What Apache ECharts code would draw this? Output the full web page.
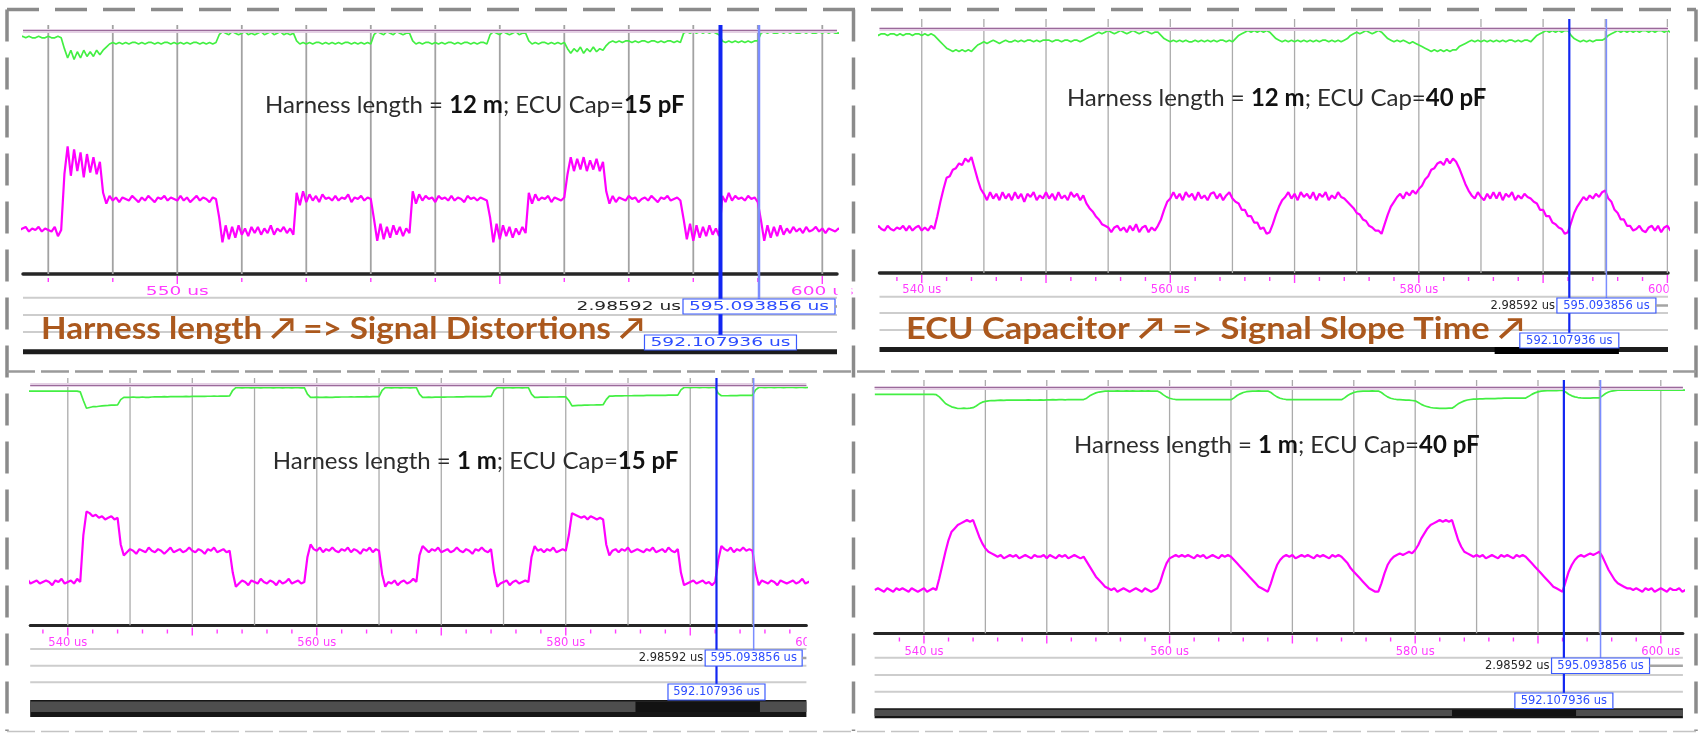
<!DOCTYPE html>
<html lang="en">
<head>
<meta charset="utf-8">
<title>Bus waveforms vs harness length and ECU capacitance</title>
<script src="https://cdn.jsdelivr.net/npm/echarts@6.0.0/dist/echarts.min.js"></script>
<style>
  html, body { margin: 0; padding: 0; background: #fff; }
  #chart { width: 1701px; height: 733px; }
</style>
</head>
<body>
<div id="chart"></div>
<script>
// ---- cursor readouts (µs) ----
const cursorA = 592.107936;
const cursorB = 595.093856;

// ---- sample clock of the captured traces (µs) ----
const T0 = 536.0;
const DT = 0.25;

// ---- timebase ----
const gridTimes = [540, 545, 550, 555, 560, 565, 570, 575, 580, 585, 590, 595, 600];
const fineTicks = [538, 540, 542, 544, 546, 548, 550, 552, 554, 556, 558, 560, 562, 564, 566, 568,
                   570, 572, 574, 576, 578, 580, 582, 584, 586, 588, 590, 592, 594, 596, 598, 600];
const fineMajor = [540, 550, 560, 570, 580, 590, 600];
const fineLabels = [540, 560, 580, 600];
const coarseTicks = [540, 545, 550, 555, 560, 565, 570, 575, 580, 585, 590, 595, 600];
const coarseMajor = [550, 575, 600];
const coarseLabels = [550, 600];

// ---- test conditions ----
const harnessLength = ['12 m', '12 m', '1 m', '1 m'];
const ecuCap = ['15 pF', '40 pF', '15 pF', '40 pF'];
const headlines = ['Harness length \u2197 => Signal Distortions \u2197',
                   'ECU Capacitor \u2197 => Signal Slope Time \u2197'];

// reference rail level per capture
const refLevel = [128.6, 125.4, 125.9, 121.5];

// ---- differential bus voltage (magenta), one sample every DT from T0 ----
const diff12m15pF = [
  0, 1, -1, 1, 0, -1, 1, 0, 1,                        // 536.00-538.00
  2, -1, 1, 0, 2, -1, 1, 0, -1, 2, -4, 0,             // 538.25-541.00
  36, 54, 35, 52, 38, 50, 34, 49, 37, 47, 36, 44,     // 541.25-544.00
  24, 17, 22, 19, 21, 18, 21, 20, 19, 22, 20, 18,     // 544.25-547.00
  21, 19, 22, 20, 18, 21, 20, 22, 19, 21, 20, 19,
  22, 19, 21, 18, 20, 22, 19, 21, 20, 18, 21, 20,     // -553.00
  8, -8, 3, -6, 2, -5, 3, -3, 1, -4, 2, -2,           // 553.25-556.00
  2, -3, 1, -2, 3, -3, 1, -1, 2, -2, 1, -3,
  24, 16, 25, 18, 23, 19, 22, 18, 23, 20, 21, 19,     // 559.25-562.00
  22, 19, 21, 20, 23, 18, 21, 20, 22, 19, 21, 20,
  7, -7, 4, -6, 2, -5, 3, -3, 2, -4, 1, -2,           // 565.25-568.00
  25, 17, 23, 19, 22, 20, 21, 18, 22, 20, 21, 19,
  22, 19, 21, 20, 18, 22, 20, 21, 19, 21, 20, 19,
  8, -8, 4, -6, 3, -4, 2, -5, 1, -3, 2, -2,           // 574.25-577.00
  24, 17, 23, 19, 21, 20, 22, 18, 21, 20, 19, 21,
  36, 47, 38, 46, 39, 47, 38, 45, 39, 46, 38, 44,     // 580.25-583.00
  25, 17, 22, 18, 21, 20, 19, 22, 20, 21, 18, 20,
  21, 19, 22, 20, 18, 21, 20, 22, 19, 20, 21, 19,
  7, -6, 4, -7, 3, -5, 2, -4, 3, -3, 1, -4,           // 589.25-592.00
  22, 18, 24, 19, 22, 20, 21, 19, 22, 20, 21, 18,     // 592.25-595.00
  6, -7, 3, -5, 2, -4, 3, -3, 1, -2, 2, -1,
  1, -2, 2, -1, 0, 2, -1, 1, -2, 1, 0, -1,
  1, 0, -1, 1                                         // -602.00
];

const diff12m40pF = [
  1, -1, 2, 0, -1, 2, 0, -1, 1,
  0, 2, -1, 2, -1, 1, 2, -1, 1, -1, 2, 0,
  8, 17, 25, 32, 33, 37, 38, 41, 40, 44, 42, 45,
  38, 31, 25, 22, 18, 23, 19, 22, 18, 23, 19, 22,
  18, 23, 19, 22, 17, 22, 20, 23, 18, 21, 19, 23,
  19, 22, 18, 23, 19, 21, 18, 23, 20, 22, 18, 21,
  16, 13, 11, 8, 6, 3, 2, 1, -2, 1, 2, -1,
  1, -2, 2, -1, 3, -2, 1, 2, -2, 1, -1, 2,
  6, 12, 17, 19, 23, 19, 22, 18, 23, 20, 22, 18,
  23, 19, 21, 18, 22, 23, 19, 22, 18, 21, 23, 19,
  17, 16, 12, 12, 8, 8, 4, 4, 0, 1, -3, -2,
  3, 9, 14, 18, 20, 23, 19, 22, 18, 23, 20, 22,
  19, 23, 18, 22, 20, 23, 18, 21, 19, 23, 20, 19,
  17, 15, 13, 10, 9, 6, 5, 2, 1, -1, -1, -3,
  3, 9, 14, 17, 20, 22, 19, 23, 21, 24, 22, 25,
  27, 31, 33, 37, 38, 41, 42, 40, 44, 41, 44, 42,
  38, 33, 28, 24, 21, 19, 23, 20, 18, 22, 19, 23,
  19, 23, 18, 22, 20, 23, 18, 21, 19, 22, 20, 19,
  17, 16, 12, 12, 8, 8, 4, 3, 1, 0, -3, -2,
  4, 10, 14, 17, 20, 18, 21, 19, 22, 20, 23, 24,
  19, 17, 12, 10, 6, 6, 2, 2, -1, 0, 2, -1,
  -2, 1, 2, -1, 2, -2, 1, 2, -1, 1, -2, 1,
  1, -1, 2, 0
];

const diff1m15pF = [
  1, -1, 0, 2, -1, 0, 1, -1, 0,
  1, 0, -2, 1, 0, 2, -1, 0, 1, -1, 2, 0,
  30, 45, 44, 42, 43, 41, 42, 40, 41, 42, 40, 41,
  24, 17, 19, 21, 20, 18, 21, 20, 19, 22, 20, 19,
  21, 20, 18, 20, 22, 19, 20, 21, 19, 20, 22, 20,
  19, 21, 20, 18, 21, 20, 22, 19, 20, 21, 19, 20,
  6, -3, -1, 1, 0, -2, 1, 0, -1, 2, 0, -1,
  1, 0, -2, 1, -1, 0, 2, -1, 0, 1, -1, 0,
  16, 24, 21, 20, 22, 19, 21, 20, 22, 20, 19, 21,
  20, 22, 19, 21, 20, 18, 21, 20, 22, 19, 21, 20,
  5, -3, 0, -1, 1, -2, 0, 1, -1, 0, 2, 0,
  17, 23, 21, 19, 21, 20, 22, 19, 20, 21, 19, 20,
  22, 20, 19, 21, 20, 18, 21, 20, 22, 20, 19, 21,
  6, -3, -1, 0, 1, -2, 0, 1, -1, 0, 1, 0,
  16, 23, 20, 21, 19, 21, 20, 22, 19, 20, 21, 20,
  30, 44, 43, 42, 41, 42, 40, 42, 41, 40, 41, 40,
  24, 17, 20, 21, 19, 21, 20, 22, 19, 20, 21, 20,
  19, 21, 20, 22, 19, 20, 21, 19, 22, 20, 19, 21,
  6, -2, -1, 0, 1, -1, 0, 1, -1, 0, -2, 0,
  14, 23, 21, 20, 22, 19, 21, 20, 22, 20, 21, 20,
  6, -2, 1, 0, -1, 1, 0, -2, 1, 0, -1, 0,
  1, -1, 0, 2, -1, 0, 1, -1, 0, 1, -2, 0,
  1, 0, -1, 0
];

const diff1m40pF = [
  0, 1, 0, -1, 1, 0, -1, 1, 0,
  1, 0, -1, 1, 0, -1, 0, 1, -1, 0, 1, 0,
  7, 15, 23, 30, 35, 37, 39, 40, 41, 42, 41, 42,
  37, 32, 28, 25, 23, 22, 21, 20, 21, 19, 20, 21,
  20, 21, 19, 20, 21, 20, 19, 21, 20, 20, 21, 19,
  21, 20, 19, 21, 20, 21, 19, 20, 21, 20, 19, 20,
  17, 14, 11, 8, 6, 4, 2, 1, 0, 1, -1, 0,
  1, 0, -1, 0, 1, 0, -1, 1, 0, -1, 0, 1,
  5, 11, 16, 19, 20, 21, 20, 21, 20, 21, 20, 19,
  21, 20, 21, 19, 20, 21, 20, 19, 21, 20, 21, 20,
  18, 16, 14, 12, 10, 8, 6, 4, 2, 1, 0, -1,
  4, 10, 15, 18, 20, 21, 20, 21, 19, 20, 21, 20,
  21, 20, 19, 21, 20, 21, 20, 19, 21, 20, 21, 20,
  18, 16, 13, 11, 9, 7, 5, 3, 1, 0, -1, -1,
  4, 10, 15, 18, 20, 21, 22, 21, 22, 23, 22, 24,
  27, 31, 34, 37, 39, 40, 41, 42, 41, 42, 41, 42,
  36, 30, 26, 23, 22, 21, 20, 21, 20, 21, 19, 20,
  21, 20, 19, 21, 20, 21, 20, 19, 21, 20, 21, 20,
  18, 16, 14, 12, 10, 8, 6, 4, 2, 1, 0, -1,
  5, 11, 15, 18, 20, 21, 20, 21, 22, 21, 22, 23,
  20, 16, 12, 9, 6, 4, 3, 2, 1, 1, 0, 1,
  0, -1, 1, 0, 1, -1, 0, 1, 0, -1, 1, 0,
  0, 1, -1, 0
];

// ---- supply-side line (green), same sample clock ----
const rail12m15pF = [
  124, 124, 125, 124, 124, 125, 124, 124, 125,
  124, 125, 124, 124, 125, 124, 124, 125, 124, 124, 125, 124,
  117, 111, 116, 110, 115, 111, 116, 112, 115, 112, 116, 113,
  116, 118, 120, 121, 120, 121, 120, 121, 120, 121, 121, 120,
  121, 120, 121, 121, 120, 121, 120, 121, 121, 120, 121, 120,
  121, 120, 121, 120, 121, 121, 120, 121, 120, 121, 120, 121,
  126, 128, 127, 126, 128, 127, 126, 127, 128, 126, 127, 126,
  127, 128, 126, 127, 128, 126, 127, 128, 126, 127, 126, 127,
  122, 120, 121, 120, 121, 120, 121, 121, 120, 121, 120, 121,
  120, 121, 120, 121, 121, 120, 121, 120, 121, 120, 121, 120,
  126, 128, 127, 126, 128, 127, 126, 128, 127, 126, 127, 127,
  122, 120, 121, 120, 121, 121, 120, 121, 120, 121, 120, 121,
  121, 120, 121, 120, 121, 121, 120, 121, 120, 121, 121, 120,
  126, 128, 127, 126, 128, 127, 126, 127, 128, 126, 127, 127,
  122, 120, 121, 120, 121, 121, 120, 121, 120, 121, 120, 121,
  117, 114, 117, 115, 118, 114, 117, 115, 118, 115, 117, 116,
  119, 121, 122, 121, 122, 121, 122, 122, 121, 122, 121, 122,
  122, 121, 122, 122, 121, 122, 121, 122, 122, 121, 122, 121,
  127, 128, 127, 128, 127, 128, 127, 128, 127, 128, 127, 126,
  122, 121, 122, 121, 122, 121, 122, 121, 122, 121, 122, 122,
  127, 128, 127, 128, 127, 127, 128, 127, 128, 127, 128, 127,
  127, 128, 127, 128, 127, 127, 128, 127, 128, 127, 128, 127,
  127, 128, 127, 128
];

const rail12m40pF = [
  122, 122, 121, 122, 122, 121, 122, 122, 121,
  122, 121, 122, 122, 121, 122, 122, 121, 122, 121, 122, 121,
  119, 117, 115, 113, 112, 111, 112, 111, 112, 111, 112, 111,
  113, 115, 116, 117, 116, 117, 118, 117, 116, 117, 118, 117,
  117, 118, 117, 118, 117, 118, 118, 117, 118, 117, 118, 118,
  118, 117, 118, 118, 117, 118, 118, 117, 118, 118, 117, 118,
  119, 120, 121, 122, 123, 122, 123, 124, 123, 122, 123, 124,
  123, 122, 123, 124, 123, 122, 123, 124, 123, 122, 123, 123,
  121, 119, 118, 117, 118, 117, 118, 117, 118, 117, 117, 118,
  117, 118, 117, 118, 117, 118, 117, 118, 118, 117, 118, 117,
  119, 121, 122, 123, 124, 123, 124, 123, 124, 123, 124, 123,
  121, 119, 118, 117, 118, 117, 118, 117, 118, 117, 118, 117,
  118, 117, 118, 117, 118, 118, 117, 118, 117, 118, 117, 118,
  119, 121, 122, 123, 122, 123, 124, 123, 122, 123, 124, 123,
  121, 119, 118, 117, 118, 117, 118, 117, 116, 117, 116, 115,
  114, 113, 112, 111, 112, 111, 112, 111, 112, 111, 112, 112,
  114, 115, 116, 117, 118, 117, 118, 117, 118, 117, 118, 117,
  118, 117, 118, 117, 118, 118, 117, 118, 117, 118, 118, 117,
  119, 121, 122, 123, 124, 123, 124, 123, 124, 123, 124, 124,
  121, 119, 118, 117, 118, 117, 118, 117, 118, 118, 118, 119,
  121, 122, 123, 124, 123, 124, 123, 124, 123, 124, 123, 124,
  124, 123, 124, 123, 124, 124, 123, 124, 123, 124, 123, 124,
  124, 123, 124, 124
];

const rail1m15pF = [
  122, 122, 122, 122, 122, 122, 122, 122, 122,
  122, 122, 122, 122, 122, 122, 122, 122, 122, 122, 122, 121.5,
  116, 111, 111.5, 112, 112, 112.3, 112.5, 112.7, 112.8, 113, 113, 113.2,
  116.5, 118, 118, 118, 118.2, 118, 118, 118.2, 118, 118, 118.2, 118.3,
  118.3, 118.3, 118.4, 118.3, 118.4, 118.5, 118.4, 118.5, 118.5, 118.6, 118.5, 118.6,
  118.6, 118.6, 118.7, 118.6, 118.7, 118.7, 118.8, 118.7, 118.8, 118.8, 118.8, 118.9,
  122.5, 124.2, 124.2, 124, 124.2, 124.2, 124.1, 124.2, 124.2, 124.1, 124.2, 124.2,
  124.2, 124.1, 124.2, 124.2, 124.1, 124.2, 124.2, 124.1, 124.2, 124.2, 124.1, 124.2,
  120, 118, 118, 118.1, 118, 118, 118.1, 118, 118, 118.1, 118.1, 118.2,
  118.2, 118.2, 118.3, 118.2, 118.3, 118.3, 118.3, 118.4, 118.3, 118.4, 118.4, 118.4,
  122.5, 124.2, 124.2, 124.1, 124.2, 124.2, 124.1, 124.2, 124.2, 124.1, 124.2, 124.2,
  120, 118, 118, 118.1, 118, 118.1, 118.1, 118.2, 118.1, 118.2, 118.2, 118.2,
  118.3, 118.3, 118.3, 118.4, 118.4, 118.4, 118.5, 118.5, 118.5, 118.5, 118.6, 118.6,
  122.5, 124.2, 124.2, 124.1, 124.2, 124.2, 124.1, 124.2, 124.2, 124.1, 124.2, 124.2,
  120, 118, 118, 118.1, 118.1, 118.1, 118.2, 118.2, 118.2, 118.3, 118.3, 118.3,
  116, 112.5, 112.7, 112.8, 112.9, 113, 113, 113.1, 113.1, 113.2, 113.2, 113.3,
  116.5, 118.8, 118.8, 118.9, 118.9, 118.9, 119, 119, 119, 119.1, 119.1, 119.1,
  119.1, 119.2, 119.2, 119.2, 119.3, 119.3, 119.3, 119.3, 119.4, 119.4, 119.4, 119.4,
  122.8, 124.3, 124.3, 124.2, 124.3, 124.3, 124.2, 124.3, 124.3, 124.2, 124.3, 124.3,
  120.5, 119, 119, 119, 119.1, 119.1, 119.1, 119.2, 119.2, 119.2, 119.2, 119.3,
  122.8, 124.3, 124.3, 124.2, 124.3, 124.3, 124.2, 124.3, 124.3, 124.2, 124.3, 124.3,
  124.3, 124.2, 124.3, 124.3, 124.2, 124.3, 124.3, 124.2, 124.3, 124.3, 124.2, 124.3,
  124.3, 124.2, 124.3, 124.3
];

const rail1m40pF = [
  117.5, 117.5, 117.5, 117.5, 117.5, 117.5, 117.5, 117.5, 117.5,
  117.5, 117.5, 117.5, 117.5, 117.5, 117.5, 117.5, 117.5, 117.5, 117.5, 117.5, 117.3,
  116, 114, 112, 111, 110, 109.5, 109, 109, 109.2, 109, 109.2, 109.5,
  110.5, 111.8, 112.8, 113.3, 113.6, 113.8, 113.8, 113.9, 114, 113.9, 114, 114,
  114, 114, 114.1, 114, 114, 114.2, 114, 114.1, 114, 114.2, 114.1, 114.2,
  114.2, 114.3, 114.2, 114.3, 114.3, 114.2, 114.4, 114.3, 114.4, 114.3, 114.4, 114.4,
  115.2, 116.6, 117.6, 118.4, 118.9, 119.2, 119.4, 119.5, 119.5, 119.5, 119.6, 119.5,
  119.5, 119.6, 119.5, 119.6, 119.5, 119.5, 119.6, 119.5, 119.6, 119.5, 119.5, 119.5,
  118.6, 117.2, 116, 115.2, 114.7, 114.4, 114.3, 114.3, 114.3, 114.4, 114.3, 114.3,
  114.3, 114.4, 114.3, 114.3, 114.4, 114.3, 114.3, 114.4, 114.3, 114.3, 114.4, 114.3,
  115.4, 116.8, 117.8, 118.6, 119.1, 119.3, 119.5, 119.5, 119.6, 119.5, 119.5, 119.5,
  118.6, 117.2, 116, 115.2, 114.7, 114.4, 114.3, 114.3, 114.4, 114.3, 114.3, 114.4,
  114.3, 114.3, 114.4, 114.3, 114.3, 114.4, 114.3, 114.3, 114.4, 114.3, 114.3, 114.3,
  115.4, 116.8, 117.8, 118.6, 119.1, 119.3, 119.5, 119.5, 119.5, 119.6, 119.5, 119.5,
  118.6, 117.2, 116, 115.2, 114.7, 114.4, 114.3, 114.2, 114.1, 114, 113.8, 113.6,
  112.6, 111.5, 110.7, 110.1, 109.6, 109.3, 109.2, 109.1, 109.1, 109.1, 109.2, 109.2,
  110.4, 111.8, 112.8, 113.6, 114.1, 114.4, 114.6, 114.7, 114.8, 114.8, 114.9, 114.9,
  115, 115, 115.1, 115.1, 115.2, 115.2, 115.2, 115.3, 115.3, 115.3, 115.3, 115.3,
  116.3, 117.5, 118.4, 119, 119.4, 119.6, 119.7, 119.8, 119.8, 119.8, 119.9, 119.9,
  118.9, 117.6, 116.6, 116, 115.6, 115.4, 115.3, 115.3, 115.3, 115.4, 115.4, 115.4,
  116.6, 118, 118.9, 119.5, 119.8, 120, 120, 120.1, 120.1, 120, 120.1, 120.1,
  120, 120.1, 120.1, 120, 120.1, 120.1, 120, 120.1, 120.1, 120, 120.1, 120.1,
  120, 120.1, 120.1, 120
];

// ---- panel layout and styling ----
const panels = [
  { box: { left: 23, top: 25, width: 814, height: 249 }, xRange: [538.04, 601.14], yRange: [-28.39, 132.26],
    diff: diff12m15pF, rail: rail12m15pF, ticks: coarseTicks, majors: coarseMajor, labels: coarseLabels,
    textScale: 1.62, fontSize: 11.5, cursorWidth: [4, 2.5], gridWidth: 1.8, gridColor: '#a2a2a2', axisWidth: 3.5,
    labelDy: 17.7, rows: [23.7, 41, 58], readout: { b: 25, a: 61, h: 15, w: 152 },
    bar: { kind: 'line', y: 77.7, w: 5 }, thumb: null,
    note: [474.8, 105.5], headline: [41, 329, 1.07] },
  { box: { left: 879.5, top: 19, width: 788.5, height: 254 }, xRange: [536.6, 600.05], yRange: [-27.5, 131.25],
    diff: diff12m40pF, rail: rail12m40pF, ticks: fineTicks, majors: fineMajor, labels: fineLabels,
    textScale: 1, fontSize: 11.5, cursorWidth: [2.2, 1.5], gridWidth: 1.3, gridColor: '#ababab', axisWidth: 3.5,
    labelDy: 17, rows: [23.7, 40, 57], readout: { b: 25, a: 60, h: 15, w: 99 },
    bar: { kind: 'line', y: 76.5, w: 5 }, thumb: [586.1, 596.1],
    note: [1276.6, 98.5], headline: [906, 329, 1.11] },
  { box: { left: 30.2, top: 378, width: 776.2, height: 247.5 }, xRange: [536.98, 599.33], yRange: [-27.8, 130.35],
    diff: diff1m15pF, rail: rail1m15pF, ticks: fineTicks, majors: fineMajor, labels: fineLabels,
    textScale: 1, fontSize: 11.5, cursorWidth: [2.2, 1.5], gridWidth: 1.3, gridColor: '#ababab', axisWidth: 3,
    labelDy: 17.8, rows: [23.5, 40.2, 56.8], readout: { b: 24.5, a: 58.5, h: 16, w: 97 },
    bar: { kind: 'bar', y: 74.5, h: 17 }, thumb: [585.6, 595.6],
    note: [475.6, 461], headline: null },
  { box: { left: 874.6, top: 380, width: 808.3, height: 253.5 }, xRange: [535.98, 601.8], yRange: [-26.13, 126.13],
    diff: diff1m40pF, rail: rail1m40pF, ticks: fineTicks, majors: fineMajor, labels: fineLabels,
    textScale: 1, fontSize: 11.5, cursorWidth: [2.2, 1.5], gridWidth: 1.3, gridColor: '#ababab', axisWidth: 3,
    labelDy: 18.2, rows: [24.2, 41.5, 58.2], readout: { b: 24.5, a: 59.5, h: 15.5, w: 98 },
    bar: { kind: 'bar', y: 74.8, h: 10 }, thumb: [583.0, 593.1],
    note: [1276.8, 445.5], headline: null }
];

const MAGENTA = '#ff00ff';
const TICK_PINK = '#ff3cff';
const GREEN = '#43ef43';
const READOUT_BLUE = '#2d4dff';

function sampled(arr) {
  return arr.map((v, i) => [T0 + i * DT, v]);
}

function textEl(x, y, text, opts) {
  return {
    type: 'text', x: x, y: y, scaleX: opts.scale || 1,
    style: {
      text: text, x: 0, y: 0,
      fontFamily: opts.family || 'DejaVu Sans', fontSize: opts.size, fontWeight: opts.weight || 'normal',
      fill: opts.fill, align: opts.align || 'center', textAlign: opts.align || 'center',
      verticalAlign: 'middle', textVerticalAlign: 'middle'
    }
  };
}

// vertical graticule
function gridRender(p) {
  return function (params, api) {
    const cs = params.coordSys;
    const x = api.coord([api.value(0), 0])[0];
    return { type: 'line', shape: { x1: x, y1: cs.y, x2: x, y2: cs.y + cs.height },
             style: { stroke: p.gridColor, lineWidth: p.gridWidth } };
  };
}

// timebase ticks (kind 0 minor, 1 major) and labels (kind 2)
function timebaseRender(p) {
  return function (params, api) {
    const cs = params.coordSys;
    const t = api.value(0), kind = api.value(1);
    const x = api.coord([t, 0])[0];
    const base = cs.y + cs.height;
    if (kind === 2) {
      return textEl(x, base + p.labelDy, t + ' us', { size: p.fontSize, fill: TICK_PINK, scale: p.textScale });
    }
    if (x < cs.x - 0.5 || x > cs.x + cs.width + 0.5) return null;
    const y1 = base + (kind === 1 ? 2 : 4), y2 = base + (kind === 1 ? 10 : 8);
    return { type: 'line', shape: { x1: x, y1: y1, x2: x, y2: y2 }, style: { stroke: TICK_PINK, lineWidth: 1.4 } };
  };
}

// measurement rows and scroll bar under the timebase
function frameRender(p) {
  return function (params, api) {
    const cs = params.coordSys;
    const base = cs.y + cs.height;
    const x0 = cs.x, x1 = cs.x + cs.width;
    const kids = p.rows.map(dy => ({ type: 'line', shape: { x1: x0, y1: base + dy, x2: x1, y2: base + dy },
                                      style: { stroke: '#cdcdcd', lineWidth: 2 } }));
    if (p.bar.kind === 'line') {
      kids.push({ type: 'line', shape: { x1: x0, y1: base + p.bar.y, x2: x1, y2: base + p.bar.y },
                  style: { stroke: '#1c1c1c', lineWidth: p.bar.w } });
      if (p.thumb) {
        const a = api.coord([api.value(0), 0])[0], b = api.coord([api.value(1), 0])[0];
        kids.push({ type: 'rect', shape: { x: a, y: base + p.bar.y - 2.5, width: b - a, height: 7 }, style: { fill: '#000' } });
      }
    } else {
      const top = base + p.bar.y, h = p.bar.h;
      kids.push({ type: 'rect', shape: { x: x0, y: top, width: x1 - x0, height: h }, style: { fill: '#161616' } });
      kids.push({ type: 'rect', shape: { x: x0, y: top + 1.5, width: x1 - x0, height: h * 0.62 }, style: { fill: '#4e4e4e' } });
      const a = api.coord([api.value(0), 0])[0], b = api.coord([api.value(1), 0])[0];
      kids.push({ type: 'rect', shape: { x: a, y: top + 1.5, width: b - a, height: h * 0.62 }, style: { fill: '#121212' } });
    }
    return { type: 'group', children: kids };
  };
}

// the two time cursors with their readout boxes
function cursorRender(p) {
  return function (params, api) {
    const cs = params.coordSys;
    const t = api.value(0), which = api.value(1);
    const x = api.coord([t, 0])[0];
    const base = cs.y + cs.height;
    const r = p.readout;
    const boxTop = base + (which === 0 ? r.a : r.b);
    const kids = [
      { type: 'line', shape: { x1: x, y1: cs.y, x2: x, y2: boxTop },
        style: { stroke: which === 0 ? '#1226f2' : '#7b8dff', lineWidth: p.cursorWidth[which] } },
      { type: 'rect', shape: { x: x - r.w / 2, y: boxTop, width: r.w, height: r.h },
        style: { fill: '#ffffff', stroke: '#3b5bff', lineWidth: 1.2 } },
      textEl(x, boxTop + r.h / 2 + 0.5, t.toFixed(6) + ' us', { size: p.fontSize, fill: READOUT_BLUE, scale: p.textScale })
    ];
    if (which === 1) {
      kids.push({ type: 'line', shape: { x1: x + r.w / 2, y1: boxTop + r.h / 2, x2: cs.x + cs.width, y2: boxTop + r.h / 2 },
                  style: { stroke: '#a4a4a4', lineWidth: 2.5 } });
      kids.push(textEl(x - r.w / 2 - 2, boxTop + r.h / 2 + 0.5, (cursorB - cursorA).toFixed(5) + ' us',
                       { size: p.fontSize, fill: '#262626', scale: p.textScale, align: 'right' }));
    }
    return { type: 'group', children: kids };
  };
}

const option = { animation: false, grid: [], xAxis: [], yAxis: [], series: [], graphic: [] };

panels.forEach((p, k) => {
  option.grid.push({ left: p.box.left, top: p.box.top, width: p.box.width, height: p.box.height });
  option.xAxis.push({
    type: 'value', gridIndex: k, min: p.xRange[0], max: p.xRange[1],
    axisLine: { show: true, onZero: false, lineStyle: { color: '#262626', width: p.axisWidth } },
    axisTick: { show: false }, axisLabel: { show: false }, splitLine: { show: false }
  });
  option.yAxis.push({ type: 'value', gridIndex: k, min: p.yRange[0], max: p.yRange[1], show: false, splitLine: { show: false } });

  const common = { xAxisIndex: k, yAxisIndex: k, animation: false, silent: true };

  option.series.push(Object.assign({
    type: 'custom', name: 'graticule-' + k, clip: true, z: 1,
    data: gridTimes.map(t => [t, 0]), renderItem: gridRender(p)
  }, common));

  option.series.push(Object.assign({
    type: 'custom', name: 'rows-' + k, clip: false, z: 2,
    data: [p.thumb ? [p.thumb[0], p.thumb[1]] : [0, 0]], renderItem: frameRender(p)
  }, common));

  option.series.push(Object.assign({
    type: 'line', name: 'rail-' + k, data: sampled(p.rail), showSymbol: false, symbol: 'none', z: 3,
    lineStyle: { color: GREEN, width: 1.7 },
    markLine: {
      silent: true, symbol: 'none', label: { show: false }, animation: false,
      data: [
        { yAxis: refLevel[k], lineStyle: { color: '#e4d0e4', width: 4, type: 'solid' } },
        { yAxis: refLevel[k], lineStyle: { color: '#9a6a9a', width: 1.2, type: 'solid' } }
      ]
    }
  }, common));

  option.series.push(Object.assign({
    type: 'line', name: 'diff-' + k, data: sampled(p.diff), showSymbol: false, symbol: 'none', z: 3,
    lineStyle: { color: MAGENTA, width: 2.2 }
  }, common));

  const tb = p.ticks.map(t => [t, p.majors.indexOf(t) >= 0 ? 1 : 0]).concat(p.labels.map(t => [t, 2]));
  option.series.push(Object.assign({
    type: 'custom', name: 'timebase-' + k, clip: false, z: 4, data: tb, renderItem: timebaseRender(p)
  }, common));

  option.series.push(Object.assign({
    type: 'custom', name: 'cursors-' + k, clip: false, z: 6,
    data: [[cursorA, 0], [cursorB, 1]], renderItem: cursorRender(p)
  }, common));

  // test-condition caption
  option.graphic.push({
    type: 'text', x: p.note[0], y: p.note[1], z: 100,
    style: {
      text: '{n|Harness length = }{b|' + harnessLength[k] + '}{n|; ECU Cap=}{b|' + ecuCap[k] + '}',
      rich: {
        n: { fontFamily: 'Lato', fontSize: 24, fill: '#2c2c2c' },
        b: { fontFamily: 'Lato', fontSize: 24, fontWeight: 'bold', fill: '#111111' }
      },
      align: 'center', textAlign: 'center', verticalAlign: 'middle', textVerticalAlign: 'middle'
    }
  });
  if (p.headline) {
    option.graphic.push({
      type: 'text', x: p.headline[0], y: p.headline[1], scaleX: p.headline[2], z: 100,
      style: {
        text: headlines[k], fontFamily: 'Lato', fontSize: 31, fontWeight: 'bold', fill: '#ab581d',
        align: 'left', textAlign: 'left', verticalAlign: 'middle', textVerticalAlign: 'middle'
      }
    });
  }
});

// trim timebase labels that run past the right edge of a capture window
[[837.6, 282, 14, 16], [1668.6, 281, 25, 16], [806.8, 635, 44, 16]].forEach(m => {
  option.graphic.push({ type: 'rect', z: 150, shape: { x: m[0], y: m[1], width: m[2], height: m[3] }, style: { fill: '#ffffff' } });
});

// dashed frames around the four captures
const frameDash = { stroke: '#8b8b8b', lineWidth: 3.5, lineDash: [32, 16] };
[
  [7, 9.5, 1696, 9.5, frameDash],
  [7, 9.5, 7, 731, frameDash],
  [853.5, 9.5, 853.5, 731, frameDash],
  [1696, 9.5, 1696, 731, frameDash],
  [7, 371.5, 1696, 371.5, { stroke: '#9a9a9a', lineWidth: 2.5, lineDash: [28, 6] }],
  [7, 731.5, 1696, 731.5, { stroke: '#c4c4c4', lineWidth: 1.5, lineDash: [28, 6] }]
].forEach(s => {
  option.graphic.push({ type: 'line', z: 200, shape: { x1: s[0], y1: s[1], x2: s[2], y2: s[3] }, style: s[4] });
});

const chart = echarts.init(document.getElementById('chart'), null, { renderer: 'canvas' });
chart.setOption(option);
</script>
</body>
</html>
